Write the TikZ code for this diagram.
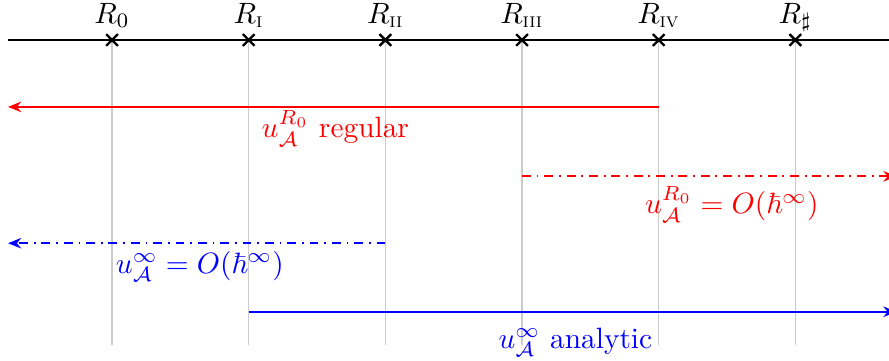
\documentclass[tikz,border=0pt]{standalone}
\usepackage{amsmath}
\usepackage{amssymb}
\usepackage{tikz}
\usetikzlibrary{arrows.meta, positioning}

\begin{document}
\begin{tikzpicture}[
  guide/.style={black!20},
  tickmark/.style={thick},
  spanline/.style={semithick, -{Stealth[length=4.5pt, width=3.6pt]}},
]

  \useasboundingbox (-1.34,0.478) rectangle (9.29,-3.83);

  % ends of the axis and of the guides
  \coordinate (west) at (-1.244,0);
  \coordinate (east) at (9.38,0);
  \coordinate (floor) at (0,-3.65);

  % rows of the ranges
  \coordinate (rowA) at (0,-0.80);
  \coordinate (rowB) at (0,-1.63);
  \coordinate (rowC) at (0,-2.43);
  \coordinate (rowD) at (0,-3.25);

  \foreach \i in {0,...,5} {
    \coordinate (r\i) at (1.634*\i,0);
    \draw[guide] (r\i) -- (r\i |- floor);
  }

  \draw[semithick] (west) -- (east);

  \foreach \i/\sub in {0/0, 1/{\textsc{i}}, 2/{\textsc{ii}}, 3/{\textsc{iii}}, 4/{\textsc{iv}}, 5/{\sharp}} {
    \draw[tickmark] (r\i) ++(-2pt,-2pt) -- ++(4pt,4pt) ++(-4pt,0) -- ++(4pt,-4pt);
    \path (r\i) ++(0,0.2) node[anchor=base] (lab\i) {$R_{\sub}$};
  }

  \draw[spanline, red] (r4 |- rowA) -- (west |- rowA);
  \node[red] (regular) at (2.67,-1.06) {$u_{\mathcal{A}}^{R_0}$ regular};

  \draw[spanline, red, dash dot] (r3 |- rowB) -- (east |- rowB);
  \node[red] (smallR) at (7.41,-1.97) {$u_{\mathcal{A}}^{R_0} = O(\hbar^\infty)$};

  \draw[spanline, blue, dash dot] (r2 |- rowC) -- (west |- rowC);
  \node[blue] (smallinf) at (1.05,-2.71) {$u_{\mathcal{A}}^{\infty} = O(\hbar^\infty)$};

  \draw[spanline, blue] (r1 |- rowD) -- (east |- rowD);
  \node[blue] (analytic) at (5.54,-3.61) {$u_{\mathcal{A}}^{\infty}$ analytic};

\end{tikzpicture}
\end{document}
